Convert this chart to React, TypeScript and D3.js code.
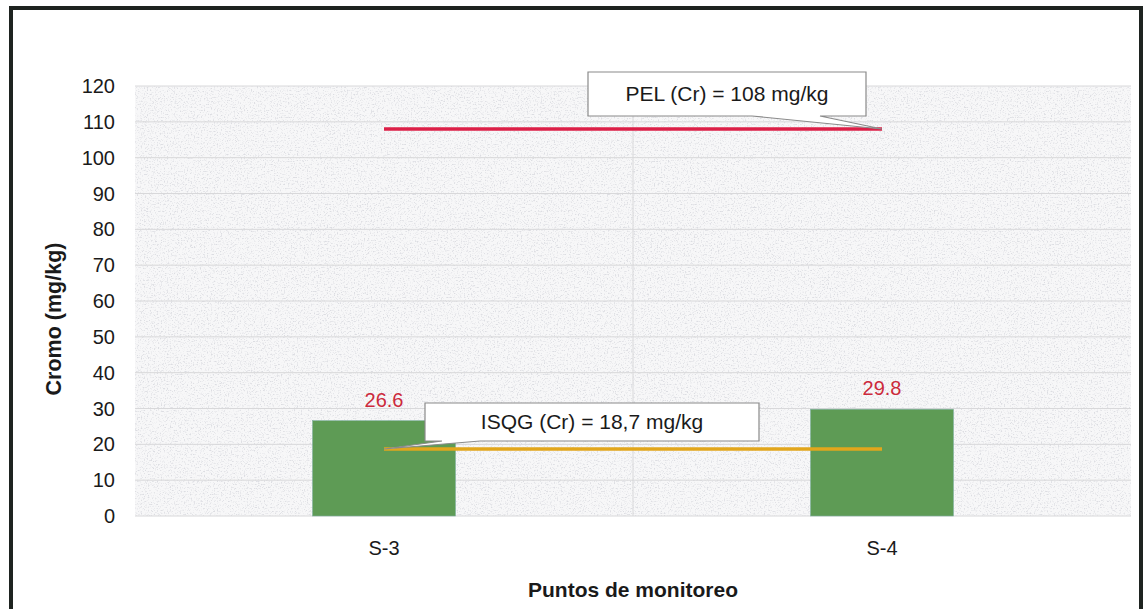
import React from "react";
import * as d3 from "d3";

const categories = ["S-3", "S-4"];
const values = [26.6, 29.8];
const valueLabels = ["26.6", "29.8"];
const yTicks = [0, 10, 20, 30, 40, 50, 60, 70, 80, 90, 100, 110, 120];
const pelValue = 108;
const pelLabel = "PEL (Cr) = 108 mg/kg";
const isqgValue = 18.7;
const isqgLabel = "ISQG (Cr) = 18,7 mg/kg";
const yTitle = "Cromo (mg/kg)";
const xTitle = "Puntos de monitoreo";

const W = 1147;
const H = 609;
const plot = { left: 135, right: 1131, top: 86, bottom: 516 };
const FONT = "'Liberation Sans', Arial, sans-serif";

export default function App() {
  const y = d3.scaleLinear().domain([0, 120]).range([plot.bottom, plot.top]);
  const x = d3.scalePoint<string>().domain(categories).range([plot.left, plot.right]).padding(0.5);
  const step = x.step();
  const barW = step * 0.287;
  const x0 = x(categories[0])!;
  const x1 = x(categories[categories.length - 1])!;
  const yPel = y(pelValue);
  const yIsqg = y(isqgValue);

  const pelBox = { x: 588, y: 72, w: 278, h: 44 };
  const isqgBox = { x: 425, y: 403, w: 334, h: 38 };

  return (
    <svg width={W} height={H} style={{ position: "absolute", left: 0, top: 0, background: "#fff" }}>
      <defs>
        <filter id="speckle" x="0" y="0" width="100%" height="100%">
          <feTurbulence type="fractalNoise" baseFrequency="0.7" numOctaves="2" seed="5" result="n" />
          <feColorMatrix
            in="n"
            type="matrix"
            values="0 0 0 0 0.6  0 0 0 0 0.61  0 0 0 0 0.66  4 0 0 0 -2.1"
          />
        </filter>
      </defs>
      <rect x={11} y={8} width={1130} height={640} fill="#fff" stroke="#1e2320" strokeWidth={4} />
      <rect x={plot.left} y={plot.top} width={plot.right - plot.left} height={plot.bottom - plot.top} fill="#f7f7f8" />
      <rect
        x={plot.left}
        y={plot.top}
        width={plot.right - plot.left}
        height={plot.bottom - plot.top}
        filter="url(#speckle)"
        opacity={0.6}
      />
      {yTicks.map((t) => (
        <line key={t} x1={plot.left} x2={plot.right} y1={y(t)} y2={y(t)} stroke="#d8d8da" strokeWidth={1} />
      ))}
      <line x1={(x0 + x1) / 2} x2={(x0 + x1) / 2} y1={plot.top} y2={plot.bottom} stroke="#d8d8da" strokeWidth={1} />
      {yTicks.map((t) => (
        <text key={t} x={115} y={y(t)} dy="0.35em" textAnchor="end" fontFamily={FONT} fontSize={20} fill="#1a1a1a">
          {t}
        </text>
      ))}
      {categories.map((c, i) => (
        <rect
          key={c}
          x={x(c)! - barW / 2}
          y={y(values[i])}
          width={barW}
          height={plot.bottom - y(values[i])}
          fill="#5e9b55"
          stroke="#7fb0a0"
          strokeWidth={0.6}
        />
      ))}
      {categories.map((c, i) => (
        <text
          key={c}
          x={x(c)!}
          y={y(values[i]) - 14}
          textAnchor="middle"
          fontFamily={FONT}
          fontSize={20}
          fill="#cc2a3c"
        >
          {valueLabels[i]}
        </text>
      ))}
      <line x1={x0} x2={x1} y1={yPel} y2={yPel} stroke="#dc1f47" strokeWidth={3.5} />
      <line x1={x0} x2={x1} y1={yIsqg} y2={yIsqg} stroke="#e2a61c" strokeWidth={3.5} />
      <path
        d={`M${pelBox.x},${pelBox.y} H${pelBox.x + pelBox.w} V${pelBox.y + pelBox.h} H${820} L${x1},${yPel} L${752},${pelBox.y + pelBox.h} H${pelBox.x} Z`}
        fill="#fff"
        stroke="#8a8a8a"
        strokeWidth={1.2}
      />
      <text
        x={pelBox.x + pelBox.w / 2}
        y={pelBox.y + pelBox.h / 2}
        dy="0.35em"
        textAnchor="middle"
        fontFamily={FONT}
        fontSize={21}
        fill="#1a1a1a"
      >
        {pelLabel}
      </text>
      <path
        d={`M${isqgBox.x},${isqgBox.y} H${isqgBox.x + isqgBox.w} V${isqgBox.y + isqgBox.h} H${480} L${x0},${yIsqg} L${442},${isqgBox.y + isqgBox.h} H${isqgBox.x} Z`}
        fill="#fff"
        stroke="#8a8a8a"
        strokeWidth={1.2}
      />
      <text
        x={isqgBox.x + isqgBox.w / 2}
        y={isqgBox.y + isqgBox.h / 2}
        dy="0.35em"
        textAnchor="middle"
        fontFamily={FONT}
        fontSize={21}
        fill="#1a1a1a"
      >
        {isqgLabel}
      </text>
      {categories.map((c) => (
        <text key={c} x={x(c)!} y={548} dy="0.35em" textAnchor="middle" fontFamily={FONT} fontSize={20} fill="#1a1a1a">
          {c}
        </text>
      ))}
      <text
        x={(plot.left + plot.right) / 2}
        y={590}
        dy="0.35em"
        textAnchor="middle"
        fontFamily={FONT}
        fontSize={21}
        fontWeight="bold"
        fill="#1a1a1a"
      >
        {xTitle}
      </text>
      <text
        transform={`translate(53,${(243 + 395) / 2}) rotate(-90)`}
        dy="0.35em"
        textAnchor="middle"
        fontFamily={FONT}
        fontSize={21.5}
        fontWeight="bold"
        fill="#1a1a1a"
      >
        {yTitle}
      </text>
    </svg>
  );
}
